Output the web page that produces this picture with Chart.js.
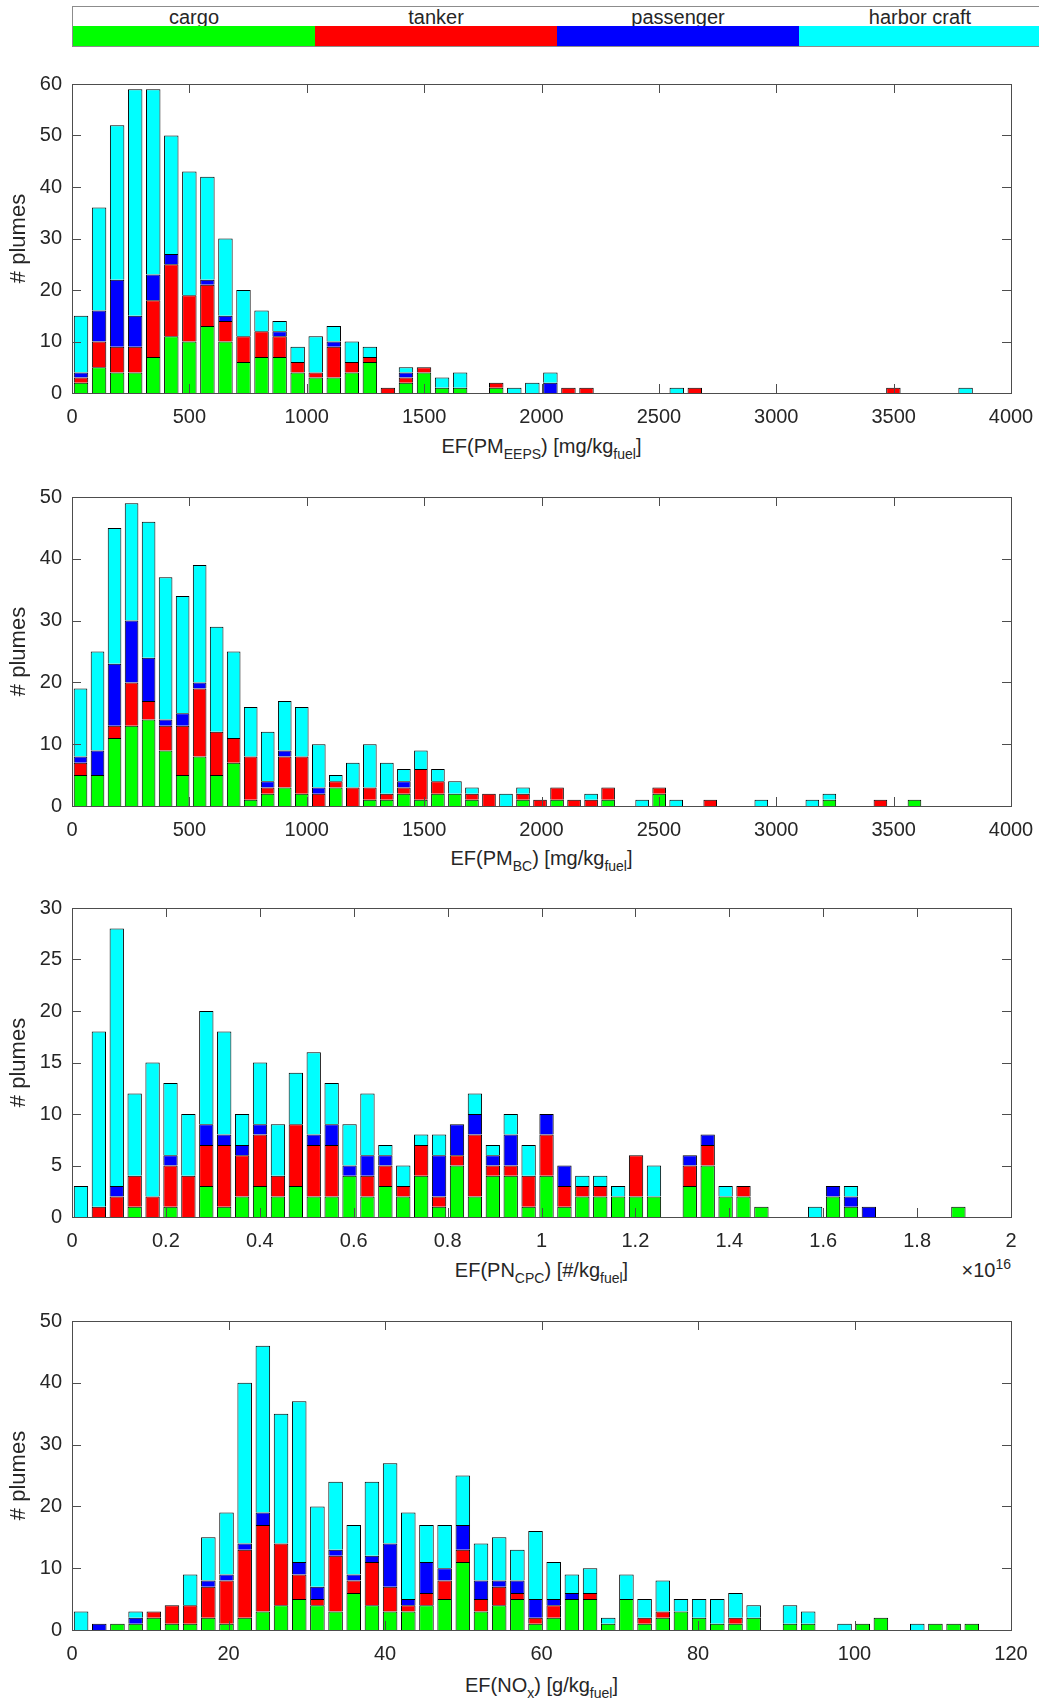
<!DOCTYPE html>
<html lang="en">
<head>
<meta charset="UTF-8">
<title>Plume emission factors by ship type</title>
<script src="https://cdn.jsdelivr.net/npm/chart.js"></script>
<style>
    body {
        margin: 0;
        width: 1039px;
        height: 1700px;
        position: relative;
        overflow: hidden;
        background: #fff;
        font-family: 'Liberation Sans', Arial, Helvetica, sans-serif;
        color: #262626;
    }
    .panel { position: absolute; left: 0; width: 1060px; }
    .xt {
        position: absolute;
        left: 72px;
        width: 939px;
        text-align: center;
        font-size: 20px;
        line-height: 24px;
        white-space: nowrap;
    }
    .xt sub { font-size: 14px; vertical-align: -6px; line-height: 0; }
    #legend {
        position: absolute;
        left: 72px;
        top: 6px;
        width: 975px;
        height: 41px;
        border: 1px solid #8c8c8c;
        box-sizing: border-box;
        display: flex;
    }
    #legend .item { width: 242px; display: flex; flex-direction: column; }
    #legend .lbl { height: 19px; line-height: 21px; text-align: center; font-size: 20px; }
    #legend .sw { flex: 1; position: relative; }
    #exp { position: absolute; font-size: 20px; line-height: 24px; right: 28px; top: 1258px; }
    #exp sup { font-size: 14px; vertical-align: 8px; line-height: 0; }
</style>
</head>
<body>

<div id="legend"></div>

<div class="panel" style="top:62px"><canvas id="chartEEPS" width="1060" height="369"></canvas></div>
<div class="xt" style="top:434px">EF(PM<sub>EEPS</sub>) [mg/kg<sub>fuel</sub>]</div>

<div class="panel" style="top:475px"><canvas id="chartBC" width="1060" height="369"></canvas></div>
<div class="xt" style="top:846px">EF(PM<sub>BC</sub>) [mg/kg<sub>fuel</sub>]</div>

<div class="panel" style="top:886px"><canvas id="chartCPC" width="1060" height="369"></canvas></div>
<div class="xt" style="top:1258px">EF(PN<sub>CPC</sub>) [#/kg<sub>fuel</sub>]</div>
<div id="exp">&times;10<sup>16</sup></div>

<div class="panel" style="top:1299px"><canvas id="chartNOx" width="1060" height="369"></canvas></div>
<div class="xt" style="top:1673px">EF(NO<sub>x</sub>) [g/kg<sub>fuel</sub>]</div>

<script>
    // ship types (stack order, bottom to top)
    var shipTypes = ['cargo', 'tanker', 'passenger', 'harbor craft'];
    var shipColors = ['#00ff00', '#ff0000', '#0000ff', '#00ffff'];

    // EF(PM_EEPS), 50 bins of ~76.9 mg/kg
    var binEEPS = 76.9;
    var cargoEEPS     = [2,5,4,4,7,11,10,13,10,6, 7,7,4,3,3,4,6,0,2,4, 1,1,0,1,0,0,0,0,0,0, 0,0,0,0,0,0,0,0,0,0, 0,0,0,0,0,0,0,0,0,0];
    var tankerEEPS    = [1,5,5,5,11,14,9,8,4,5, 5,4,2,1,6,2,1,1,1,1, 0,0,0,1,0,0,0,1,1,0, 0,0,0,0,1,0,0,0,0,0, 0,0,0,0,0,1,0,0,0,0];
    var passengerEEPS = [1,6,13,6,5,2,0,1,1,0, 0,1,0,0,1,0,0,0,1,0, 0,0,0,0,0,0,2,0,0,0, 0,0,0,0,0,0,0,0,0,0, 0,0,0,0,0,0,0,0,0,0];
    var harborEEPS    = [11,20,30,44,36,23,24,20,15,9, 4,2,3,7,3,4,2,0,1,0, 2,3,0,0,1,2,2,0,0,0, 0,0,0,1,0,0,0,0,0,0, 0,0,0,0,0,0,0,0,0,1];

    // EF(PM_BC), 50 bins of ~72.5 mg/kg
    var binBC = 72.5;
    var cargoBC     = [5,5,11,13,14,9,5,8,5,7, 1,2,3,2,0,3,0,1,1,2, 1,2,2,1,0,0,1,0,1,0, 0,1,0,0,2,0,0,0,0,0, 0,0,0,0,1,0,0,0,0,1];
    var tankerBC    = [2,0,2,7,3,4,8,11,7,4, 7,1,5,6,2,1,3,2,1,1, 5,2,0,1,2,0,1,1,2,1, 1,2,0,0,1,0,0,1,0,0, 0,0,0,0,0,0,0,1,0,0];
    var passengerBC = [1,4,10,10,7,1,2,1,0,0, 0,1,1,0,1,0,0,0,0,1, 0,0,0,0,0,0,0,0,0,0, 0,0,0,0,0,0,0,0,0,0, 0,0,0,0,0,0,0,0,0,0];
    var harborBC    = [11,16,22,19,22,23,19,19,17,14, 8,8,8,8,7,1,4,7,5,2, 3,2,2,1,0,2,1,0,0,0, 1,0,0,1,0,1,0,0,0,0, 1,0,0,1,1,0,0,0,0,0];

    // EF(PN_CPC), 50 bins of ~0.0381e16 #/kg (axis in units of 1e16)
    var binCPC = 0.03814;
    var cargoCPC     = [0,0,0,1,0,1,0,3,1,2, 3,2,3,2,2,4,2,3,2,4, 1,5,2,4,4,1,4,1,2,2, 2,2,2,0,3,5,2,2,1,0, 0,0,2,1,0,0,0,0,0,1];
    var tankerCPC    = [0,1,2,3,2,4,4,4,6,4, 5,2,6,5,5,0,2,2,1,3, 1,1,6,1,1,3,4,2,1,1, 0,4,0,0,2,2,0,1,0,0, 0,0,0,0,0,0,0,0,0,0];
    var passengerCPC = [0,0,1,0,0,1,0,2,1,1, 1,0,0,1,2,1,2,1,0,0, 4,3,2,1,3,0,2,2,0,0, 0,0,0,0,1,1,0,0,0,0, 0,0,1,1,1,0,0,0,0,0];
    var harborCPC    = [3,17,25,8,13,7,6,11,10,3, 6,5,5,8,4,4,6,1,2,1, 2,0,2,1,2,3,0,0,1,1, 1,0,3,0,0,0,1,0,0,0, 0,1,0,1,0,0,0,0,0,0];

    // EF(NOx), 50 bins of ~2.32 g/kg
    var binNOx = 2.323;
    var cargoNOx     = [0,0,1,1,2,1,1,2,1,2, 3,4,5,4,3,6,4,3,3,4, 5,11,3,4,5,1,2,5,5,1, 5,1,2,3,2,1,1,2,0,1, 1,0,0,1,2,0,0,1,1,1];
    var tankerNOx    = [0,0,0,0,1,3,3,5,7,11, 14,10,4,1,9,2,7,4,1,2, 3,2,2,3,1,1,2,0,1,0, 0,1,1,0,0,0,1,0,0,0, 0,0,0,0,0,0,0,0,0,0];
    var passengerNOx = [0,1,0,1,0,0,0,1,1,1, 2,0,2,2,1,1,1,7,1,5, 2,4,3,1,2,3,1,1,0,0, 0,0,0,0,0,0,0,0,0,0, 0,0,0,0,0,0,0,0,0,0];
    var harborNOx    = [3,0,0,1,0,0,5,7,10,26, 27,21,26,13,11,8,12,13,14,6, 7,8,6,7,5,11,6,3,4,1, 4,3,5,2,3,4,4,2,0,3, 2,0,1,0,0,0,1,0,0,0];

    Chart.defaults.font.family = "'Liberation Sans', Arial, Helvetica, sans-serif";
    Chart.defaults.font.size = 20;
    Chart.defaults.color = '#262626';

    // legend strip on top
    var legend = document.getElementById('legend');
    shipTypes.forEach(function(name, k) {
        var item = document.createElement('div');
        item.className = 'item';
        item.innerHTML = '<div class="lbl">' + name + '</div><div class="sw" style="background:' + shipColors[k] + '"></div>';
        legend.appendChild(item);
    });

    // box around the plot and inward ticks on all four sides (matlab style)
    var boxPlugin = {
        id: 'box',
        afterDatasetsDraw: function(chart) {
            var ctx = chart.ctx, a = chart.chartArea;
            var x = chart.scales.x, y = chart.scales.y;
            var len = 9;
            ctx.save();
            ctx.strokeStyle = '#4d4d4d';
            ctx.lineWidth = 1;
            ctx.beginPath();
            x.ticks.forEach(function(t) {
                var px = Math.round(x.getPixelForValue(t.value)) + 0.5;
                ctx.moveTo(px, a.bottom); ctx.lineTo(px, a.bottom - len);
                ctx.moveTo(px, a.top); ctx.lineTo(px, a.top + len);
            });
            y.ticks.forEach(function(t) {
                var py = Math.round(y.getPixelForValue(t.value)) + 0.5;
                ctx.moveTo(a.left, py); ctx.lineTo(a.left + len, py);
                ctx.moveTo(a.right, py); ctx.lineTo(a.right - len, py);
            });
            ctx.stroke();
            ctx.strokeRect(Math.round(a.left) + 0.5, Math.round(a.top) + 0.5,
                Math.round(a.right - a.left), Math.round(a.bottom - a.top));
            ctx.restore();
        }
    };

    function makeChart(id, binWidth, counts, xMax, xStep, yMax, yStep, fmt) {
        var datasets = shipTypes.map(function(name, k) {
            return {
                label: name,
                data: counts[k].map(function(v, i) { return {x: (i + 0.5) * binWidth, y: v}; }),
                backgroundColor: shipColors[k],
                borderColor: '#000',
                borderWidth: 1,
                barPercentage: 0.8,
                categoryPercentage: 1
            };
        });
        return new Chart(document.getElementById(id), {
            type: 'bar',
            data: { datasets: datasets },
            options: {
                responsive: false,
                animation: false,
                // canvas is 1060 wide, plot right edge at 1011
                layout: { padding: { top: 20, right: 49, left: 0, bottom: 0 } },
                plugins: { legend: { display: false }, tooltip: { enabled: false } },
                scales: {
                    x: {
                        type: 'linear',
                        stacked: true,
                        offset: false,
                        min: 0,
                        max: xMax,
                        grid: { display: false, drawTicks: false },
                        border: { display: false },
                        ticks: {
                            stepSize: xStep,
                            autoSkip: false,
                            maxRotation: 0,
                            padding: 12,
                            callback: fmt
                        },
                        afterFit: function(s) { s.height = 38; }
                    },
                    y: {
                        stacked: true,
                        min: 0,
                        max: yMax,
                        grid: { display: false, drawTicks: false },
                        border: { display: false },
                        ticks: { stepSize: yStep, padding: 10 },
                        title: {
                            display: true,
                            text: '# plumes',
                            font: { size: 22 },
                            padding: { top: 6, bottom: 0 }
                        },
                        afterFit: function(s) { s.width = 72; }
                    }
                }
            },
            plugins: [boxPlugin]
        });
    }

    var plainFmt = function(v) { return String(v); };
    var decFmt = function(v) { return String(+v.toFixed(1)); };

    makeChart('chartEEPS', binEEPS, [cargoEEPS, tankerEEPS, passengerEEPS, harborEEPS], 4000, 500, 60, 10, plainFmt);
    makeChart('chartBC', binBC, [cargoBC, tankerBC, passengerBC, harborBC], 4000, 500, 50, 10, plainFmt);
    makeChart('chartCPC', binCPC, [cargoCPC, tankerCPC, passengerCPC, harborCPC], 2, 0.2, 30, 5, decFmt);
    makeChart('chartNOx', binNOx, [cargoNOx, tankerNOx, passengerNOx, harborNOx], 120, 20, 50, 10, plainFmt);
</script>

</body>
</html>
